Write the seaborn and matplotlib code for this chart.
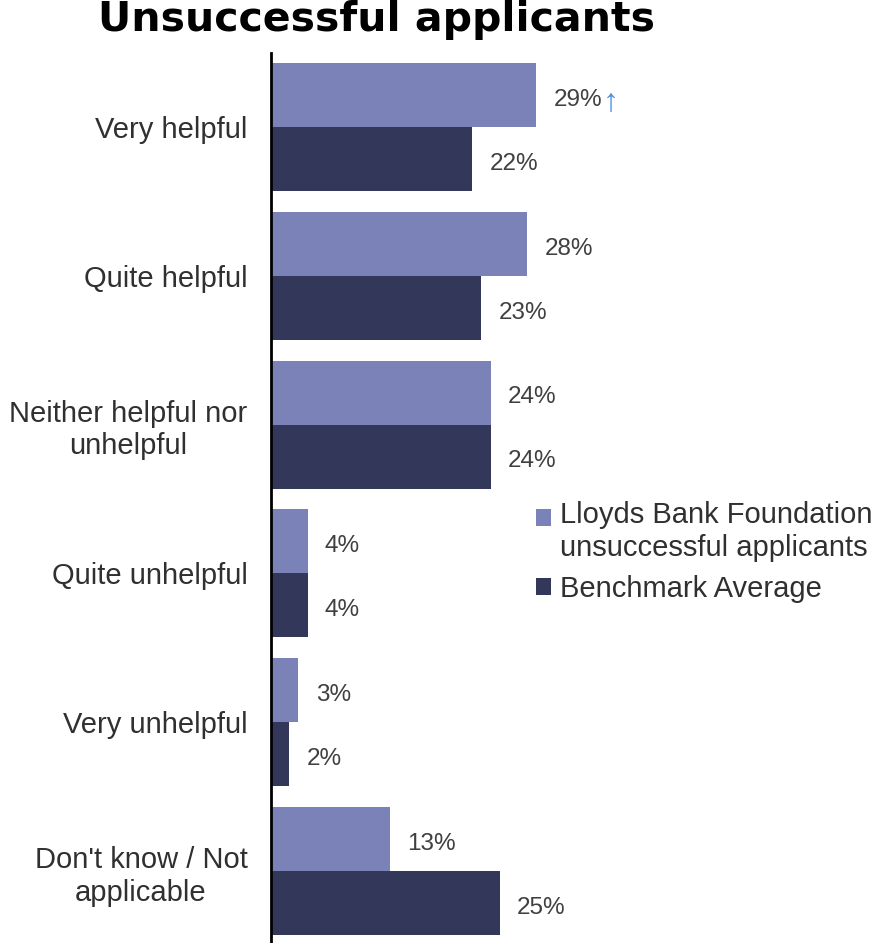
import matplotlib
matplotlib.use("Agg")
import matplotlib.pyplot as plt
import seaborn as sns
import pandas as pd
from matplotlib.patches import Patch, Rectangle
from matplotlib.legend_handler import HandlerPatch

# Survey responses (percent of respondents)
categories = [
    "Very helpful",
    "Quite helpful",
    "Neither helpful nor\nunhelpful",
    "Quite unhelpful",
    "Very unhelpful",
    "Don't know / Not\napplicable",
]
series_names = ["Lloyds Bank Foundation\nunsuccessful applicants", "Benchmark Average"]
lloyds_values = [29, 28, 24, 4, 3, 13]
benchmark_values = [22, 23, 24, 4, 2, 25]
series_colors = ["#7A82B8", "#333759"]
# responses where the foundation is significantly above the benchmark
significant_up = ["Very helpful"]

df = pd.DataFrame({
    "response": categories * 2,
    "series": [series_names[0]] * len(categories) + [series_names[1]] * len(categories),
    "pct": lloyds_values + benchmark_values,
})

sns.set_theme(style="white")
plt.rcParams["font.family"] = ["Liberation Sans", "DejaVu Sans"]

W, H = 884, 943
fig = plt.figure(figsize=(W / 100, H / 100), dpi=100)
ax_top, ax_bot = 52.6, 945.4
ax = fig.add_axes([271 / W, 1 - ax_bot / H, 549 / W, (ax_bot - ax_top) / H])

sns.barplot(
    data=df, y="response", x="pct", hue="series",
    order=categories, hue_order=series_names,
    palette=series_colors, saturation=1, orient="h",
    width=0.86, gap=0, errorbar=None, legend=False,
    linewidth=0, ax=ax,
)

ax.set_xlim(0, 60)
ax.set_xticks([])
ax.set_xlabel("")
ax.set_ylabel("")
for side in ["top", "right", "bottom"]:
    ax.spines[side].set_visible(False)
ax.spines["left"].set_color("black")
ax.spines["left"].set_linewidth(2)

ax.tick_params(axis="y", length=0, pad=17, labelsize=21, labelcolor="#303030")
for lbl in ax.get_yticklabels():
    lbl.set_multialignment("center")
    lbl.set_linespacing(1.22)

# value labels at the end of each bar
label_color = "#404040"
for container, values in zip(ax.containers, [lloyds_values, benchmark_values]):
    for bar, v, cat in zip(container, values, categories):
        t = ax.annotate(
            f"{v}%",
            xy=(bar.get_width(), bar.get_y() + bar.get_height() / 2),
            xytext=(12.5, -3.5), textcoords="offset points",
            ha="left", va="center", fontsize=17.5, color=label_color,
        )
        if container is ax.containers[0] and cat in significant_up:
            ax.annotate(
                "\u2191", xy=(1, 0), xycoords=t,
                xytext=(0.5, -4.5), textcoords="offset points",
                ha="left", va="bottom", fontsize=23, color="#4A8FE0",
            )


class FirstLineHandler(HandlerPatch):
    """Square legend key lifted to sit beside the first line of a two-line label."""

    def __init__(self, shift_pt):
        super().__init__()
        self.shift_pt = shift_pt

    def create_artists(self, legend, orig_handle, xdescent, ydescent,
                       width, height, fontsize, trans):
        rect = Rectangle((-xdescent, -ydescent + self.shift_pt), width, height,
                         facecolor=orig_handle.get_facecolor(),
                         edgecolor="none", transform=trans)
        return [rect]


handles = [Patch(facecolor=c, edgecolor="none") for c in series_colors]
fig.legend(
    handles, series_names,
    handler_map={handles[0]: FirstLineHandler(10.5)},
    loc="upper left", bbox_to_anchor=(536 / W, 1 - 501 / H),
    frameon=False, fontsize=21, labelcolor="#303030",
    handlelength=0.52, handleheight=0.52, handletextpad=0.3,
    labelspacing=0.42, borderpad=0, borderaxespad=0,
)
for txt in fig.legends[0].get_texts():
    txt.set_linespacing(1.25)

# title
fig.text(377 / W, 1 - 31 / H, "Unsuccessful applicants",
         ha="center", va="baseline", fontsize=29.5, fontweight="bold",
         family="DejaVu Sans", color="black")

fig.savefig("out.png", dpi=100)
